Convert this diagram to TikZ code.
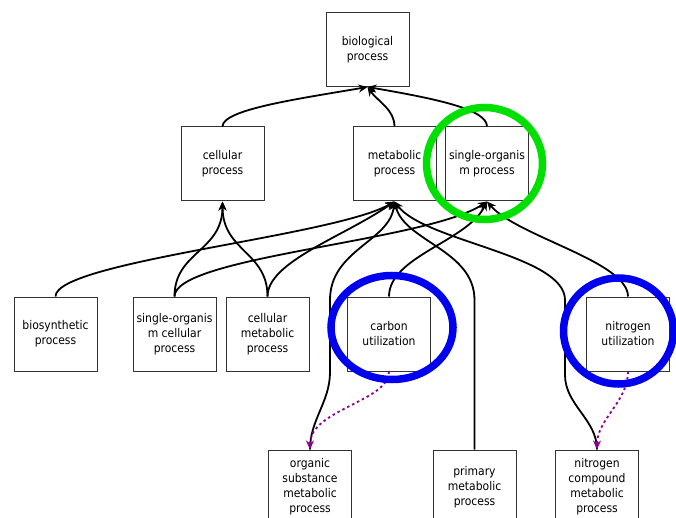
\documentclass[tikz,border=0pt]{standalone}
\usepackage{fontspec}
\setmainfont{DejaVu Sans Condensed}
\usetikzlibrary{arrows.meta}
\definecolor{boxline}{HTML}{333333}
\definecolor{dotpurple}{HTML}{8B008B}
\definecolor{ringgreen}{HTML}{00E000}
\definecolor{ringblue}{HTML}{0000F0}
\tikzset{
  term/.style={draw=boxline, line width=1pt, fill=white, minimum width=83pt, minimum height=74pt,
    inner sep=0pt, align=center, font=\fontsize{12}{15}\selectfont},
  isa/.style={draw=black, line width=1.8pt, -{Stealth[length=9pt,width=8pt]}},
  regulates/.style={draw=dotpurple, line width=1.8pt, dash pattern=on 2.5pt off 3pt,
    -{Stealth[length=9pt,width=8pt,open]}},
  ring/.style={line width=7.5pt}
}
\begin{document}
\begin{tikzpicture}[x=1pt,y=-1pt]
\clip (0,0) rectangle (676,518);
\useasboundingbox (0,0) rectangle (676,518);
% nodes
\node[term] (bio) at (367.5,49.5) {biological\\process};
\node[term] (cell) at (222.5,164) {cellular\\process};
\node[term] (meta) at (394.5,164) {metabolic\\process};
\node[term] (sorg) at (487,164) {single-organis\\m process};
\node[term] (biosyn) at (55.5,334) {biosynthetic\\process};
\node[term] (socell) at (174.5,334) {single-organis\\m cellular\\process};
\node[term] (cellmeta) at (267.5,334) {cellular\\metabolic\\process};
\node[term] (carbon) at (389,334) {carbon\\utilization};
\node[term] (nitro) at (628,334) {nitrogen\\utilization};
\node[term] (organic) at (310,487) {organic\\substance\\metabolic\\process};
\node[term] (primary) at (474.5,487) {primary\\metabolic\\process};
\node[term] (ncomp) at (597,487) {nitrogen\\compound\\metabolic\\process};
% is_a edges
\draw[isa] (cell.north) .. controls +(0,-17) and +(-70,12) .. (bio.south);
\draw[isa] (meta.north) .. controls +(0,-17) and +(10,14) .. (bio.south);
\draw[isa] (sorg.north) .. controls +(0,-17) and +(70,12) .. (bio.south);
\draw[isa] (biosyn.north) .. controls +(0,-35) and +(-60,35) .. (meta.south);
\draw[isa] (socell.north) .. controls +(0,-45) and +(0,50) .. (cell.south);
\draw[isa] (socell.north) .. controls +(0,-40) and +(-60,40) .. (sorg.south);
\draw[isa] (cellmeta.north) .. controls +(0,-45) and +(0,50) .. (cell.south);
\draw[isa] (cellmeta.north) .. controls +(0,-35) and +(-50,35) .. (meta.south);
\draw[isa] (carbon.north) .. controls +(0,-40) and +(-20,40) .. (sorg.south);
\draw[isa] (nitro.north) .. controls +(0,-35) and +(30,35) .. (sorg.south);
\coordinate (oa) at (330,372);
\coordinate (ob) at (330,300);
\draw[isa] (organic.north) .. controls +(0,-30) and +(0,30) .. (oa) -- (ob) .. controls +(0,-50) and +(-5,40) .. (meta.south);
\coordinate (pa) at (474.5,300);
\draw[isa] (primary.north) -- (pa) .. controls +(0,-50) and +(10,40) .. (meta.south);
\coordinate (na) at (565,375);
\coordinate (nb) at (565,300);
\draw[isa] (ncomp.north) .. controls +(0,-30) and +(0,30) .. (na) -- (nb) .. controls +(0,-45) and +(30,40) .. (meta.south);
% regulates edges
\draw[regulates] (carbon.south) .. controls +(0,30) and +(0,-40) .. (organic.north);
\draw[regulates] (nitro.south) .. controls +(0,30) and +(0,-30) .. (ncomp.north);
% highlight rings
\draw[ring, draw=ringgreen] (484.5,163.5) ellipse [x radius=58, y radius=56];
\draw[ring, draw=ringblue] (392,327.5) ellipse [x radius=61, y radius=52];
\draw[ring, draw=ringblue] (618.5,331) ellipse [x radius=55, y radius=53];
\end{tikzpicture}
\end{document}
